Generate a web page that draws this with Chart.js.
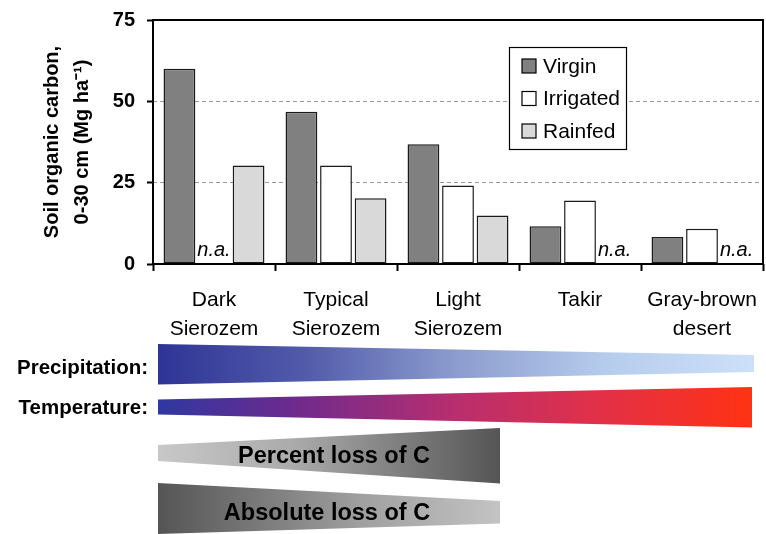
<!DOCTYPE html>
<html>
<head>
<meta charset="utf-8">
<script src="https://cdn.jsdelivr.net/npm/chart.js@4.4.1/dist/chart.umd.min.js"></script>
<style>
  html, body { margin: 0; padding: 0; background: #fff; }
  #wrap { width: 766px; height: 534px; position: relative; }
</style>
</head>
<body>
<div id="wrap"><canvas id="c" width="766" height="534"></canvas></div>
<script>
// ---- data ----
const categories = [['Dark', 'Sierozem'], ['Typical', 'Sierozem'], ['Light', 'Sierozem'], ['Takir'], ['Gray-brown', 'desert']];
const seriesNames = ['Virgin', 'Irrigated', 'Rainfed'];
const virgin = [60, 46.8, 36.8, 11.6, 8.3];
const irrigated = [null, 30.3, 24.1, 19.5, 10.8];
const rainfed = [30.3, 20.2, 14.9, null, null];
const yTicks = [0, 25, 50, 75];
const missingLabel = 'n.a.';
const yTitle = ['Soil organic carbon,', '0-30 cm (Mg ha\u207B\u00B9)'];
const gradientLabels = ['Precipitation:', 'Temperature:'];
const lossLabels = ['Percent loss of C', 'Absolute loss of C'];

const FONT = '"Liberation Sans", Arial, Helvetica, sans-serif';

const decoPlugin = {
  id: 'deco',
  afterDatasetsDraw(chart) {
    const { ctx, chartArea: a, scales: { x, y } } = chart;
    ctx.save();
    // n.a. labels for missing values
    ctx.font = 'italic 20px ' + FONT;
    ctx.textAlign = 'center';
    ctx.textBaseline = 'middle';
    ctx.fillStyle = '#000';
    chart.data.datasets.forEach((ds, di) => {
      const meta = chart.getDatasetMeta(di);
      const ref = ds.data.findIndex(v => v != null);
      const off = meta.data[ref].x - x.getPixelForValue(ref);
      ds.data.forEach((v, i) => {
        if (v == null) ctx.fillText(missingLabel, x.getPixelForValue(i) + off, a.bottom - 14);
      });
    });
    // frame
    ctx.strokeStyle = '#000';
    ctx.lineWidth = 2;
    ctx.strokeRect(a.left, a.top, a.right - a.left, a.bottom - a.top);
    ctx.restore();
  },
  afterDraw(chart) {
    const { ctx, chartArea: a } = chart;
    ctx.save();
    // legend box
    const lx = a.left + 356, ly = 47, lw = 117, lh = 102;
    ctx.fillStyle = '#fff';
    ctx.fillRect(lx, ly, lw, lh);
    ctx.strokeStyle = '#000';
    ctx.lineWidth = 1.2;
    ctx.strokeRect(lx + 0.5, ly + 0.5, lw, lh);
    ctx.font = '21px ' + FONT;
    ctx.textAlign = 'left';
    ctx.textBaseline = 'middle';
    chart.data.datasets.forEach((ds, i) => {
      const cy = 66 + i * 32.5;
      ctx.fillStyle = ds.backgroundColor;
      ctx.fillRect(lx + 13, cy - 7, 14, 14);
      ctx.strokeStyle = '#000';
      ctx.lineWidth = 1.2;
      ctx.strokeRect(lx + 13, cy - 7, 14, 14);
      ctx.fillStyle = '#000';
      ctx.fillText(ds.label, lx + 34, cy + 1);
    });

    // gradient wedges
    function wedge(x0, t0, b0, x1, t1, b1, stops) {
      const g = ctx.createLinearGradient(x0, 0, x1, 0);
      stops.forEach(s => g.addColorStop(s[0], s[1]));
      ctx.fillStyle = g;
      ctx.beginPath();
      ctx.moveTo(x0, t0); ctx.lineTo(x1, t1); ctx.lineTo(x1, b1); ctx.lineTo(x0, b0);
      ctx.closePath();
      ctx.fill();
    }
    wedge(158, 344, 384.5, 754, 355, 372, [
      [0, 'rgb(46,52,150)'], [0.25, 'rgb(82,92,170)'], [0.5, 'rgb(140,156,206)'], [0.75, 'rgb(182,204,236)'], [1, 'rgb(204,224,248)']
    ]);
    wedge(158, 399.5, 414.5, 752, 387, 427.5, [
      [0, 'rgb(46,56,160)'], [0.22, 'rgb(108,42,142)'], [0.5, 'rgb(184,46,110)'], [0.75, 'rgb(228,48,70)'], [1, 'rgb(255,50,18)']
    ]);
    wedge(158, 445, 461, 500, 428, 483.5, [
      [0, 'rgb(200,200,200)'], [0.4, 'rgb(170,170,170)'], [1, 'rgb(85,85,85)']
    ]);
    wedge(158, 483, 534, 500, 501, 523.5, [
      [0, 'rgb(85,85,85)'], [0.6, 'rgb(160,160,160)'], [1, 'rgb(195,195,195)']
    ]);

    ctx.fillStyle = '#000';
    ctx.textBaseline = 'middle';
    ctx.textAlign = 'right';
    ctx.font = 'bold 20.5px ' + FONT;
    ctx.fillText(gradientLabels[0], 148, 368);
    ctx.fillText(gradientLabels[1], 148, 408.5);
    ctx.textAlign = 'center';
    ctx.font = 'bold 23.5px ' + FONT;
    ctx.fillText(lossLabels[0], 334, 457);
    ctx.fillText(lossLabels[1], 327, 514);
    ctx.restore();
  }
};

new Chart(document.getElementById('c'), {
  type: 'bar',
  data: {
    labels: categories,
    datasets: [
      { label: seriesNames[0], data: virgin, backgroundColor: '#808080' },
      { label: seriesNames[1], data: irrigated, backgroundColor: '#ffffff' },
      { label: seriesNames[2], data: rainfed, backgroundColor: '#d9d9d9' }
    ]
  },
  options: {
    responsive: false,
    animation: false,
    devicePixelRatio: 1,
    layout: { padding: { top: 20, right: 3, left: 0, bottom: 0 } },
    datasets: {
      bar: {
        categoryPercentage: 0.85,
        barPercentage: 0.92,
        borderColor: '#1a1a1a',
        borderWidth: 1.5,
        borderSkipped: false
      }
    },
    plugins: { legend: { display: false }, tooltip: { enabled: false } },
    scales: {
      x: {
        afterFit: s => { s.height = 270; s.paddingLeft = 0; s.paddingRight = 0; },
        grid: {
          offset: true,
          color: 'rgba(0,0,0,0)',
          tickColor: '#000',
          tickWidth: 2,
          tickLength: 7
        },
        border: { display: false },
        ticks: {
          color: '#000',
          font: { family: FONT, size: 21, lineHeight: '29px' },
          padding: 14.5,
          maxRotation: 0,
          autoSkip: false
        }
      },
      y: {
        min: 0,
        max: 75,
        afterFit: s => { s.width = 153; s.paddingTop = 0; s.paddingBottom = 0; },
        afterBuildTicks: s => { s.ticks = yTicks.map(v => ({ value: v })); },
        grid: {
          color: ctx => (ctx.tick && (ctx.tick.value === 25 || ctx.tick.value === 50)) ? '#9a9a9a' : 'rgba(0,0,0,0)',
          lineWidth: 1,
          tickColor: '#000',
          tickWidth: 2,
          tickLength: 6,
          tickBorderDash: []
        },
        border: { display: false, dash: [4, 3] },
        ticks: {
          color: '#000',
          font: { family: FONT, size: 20, weight: 'bold' },
          padding: 12
        },
        title: {
          display: true,
          text: yTitle,
          color: '#000',
          font: { family: FONT, size: 20, weight: 'bold', lineHeight: '30px' },
          padding: { top: 37, bottom: 0 }
        }
      }
    }
  },
  plugins: [decoPlugin]
});
</script>
</body>
</html>
